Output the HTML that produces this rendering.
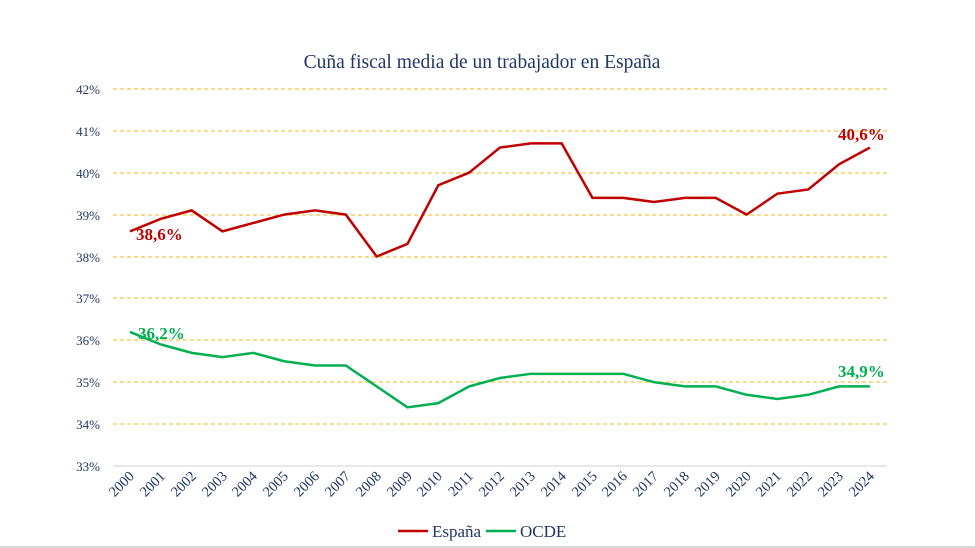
<!DOCTYPE html>
<html><head><meta charset="utf-8"><style>body{margin:0;background:#fff}svg{display:block}</style></head><body>
<svg width="975" height="548" viewBox="0 0 975 548" font-family="Liberation Serif, serif">
<rect width="975" height="548" fill="#fff"/>
<line x1="0" y1="547" x2="975" y2="547" stroke="#ccc" stroke-width="1.5"/>
<text x="482" y="68" text-anchor="middle" font-size="19.5" fill="#1f3864">Cuña fiscal media de un trabajador en España</text>
<g stroke="#f2c744" stroke-width="1.2" stroke-dasharray="4,3">
<line x1="113" x2="887" y1="89" y2="89"/><line x1="113" x2="887" y1="131" y2="131"/><line x1="113" x2="887" y1="173" y2="173"/><line x1="113" x2="887" y1="215" y2="215"/><line x1="113" x2="887" y1="257" y2="257"/><line x1="113" x2="887" y1="298" y2="298"/><line x1="113" x2="887" y1="340" y2="340"/><line x1="113" x2="887" y1="382" y2="382"/><line x1="113" x2="887" y1="424" y2="424"/>
</g>
<line x1="113" x2="887" y1="466" y2="466" stroke="#d9d9d9" stroke-width="1.2"/>
<g font-size="13" fill="#1f3864" text-anchor="end">
<text x="100" y="94">42%</text><text x="100" y="136">41%</text><text x="100" y="178">40%</text><text x="100" y="220">39%</text><text x="100" y="262">38%</text><text x="100" y="303">37%</text><text x="100" y="345">36%</text><text x="100" y="387">35%</text><text x="100" y="429">34%</text><text x="100" y="471">33%</text>
</g>
<g font-size="14.5" fill="#1f3864" text-anchor="end">
<text x="135" y="477" transform="rotate(-45 135 477)">2000</text>
<text x="166" y="477" transform="rotate(-45 166 477)">2001</text>
<text x="197" y="477" transform="rotate(-45 197 477)">2002</text>
<text x="228" y="477" transform="rotate(-45 228 477)">2003</text>
<text x="258" y="477" transform="rotate(-45 258 477)">2004</text>
<text x="289" y="477" transform="rotate(-45 289 477)">2005</text>
<text x="320" y="477" transform="rotate(-45 320 477)">2006</text>
<text x="351" y="477" transform="rotate(-45 351 477)">2007</text>
<text x="382" y="477" transform="rotate(-45 382 477)">2008</text>
<text x="413" y="477" transform="rotate(-45 413 477)">2009</text>
<text x="443" y="477" transform="rotate(-45 443 477)">2010</text>
<text x="474" y="477" transform="rotate(-45 474 477)">2011</text>
<text x="505" y="477" transform="rotate(-45 505 477)">2012</text>
<text x="536" y="477" transform="rotate(-45 536 477)">2013</text>
<text x="567" y="477" transform="rotate(-45 567 477)">2014</text>
<text x="598" y="477" transform="rotate(-45 598 477)">2015</text>
<text x="628" y="477" transform="rotate(-45 628 477)">2016</text>
<text x="659" y="477" transform="rotate(-45 659 477)">2017</text>
<text x="690" y="477" transform="rotate(-45 690 477)">2018</text>
<text x="721" y="477" transform="rotate(-45 721 477)">2019</text>
<text x="752" y="477" transform="rotate(-45 752 477)">2020</text>
<text x="782" y="477" transform="rotate(-45 782 477)">2021</text>
<text x="813" y="477" transform="rotate(-45 813 477)">2022</text>
<text x="844" y="477" transform="rotate(-45 844 477)">2023</text>
<text x="875" y="477" transform="rotate(-45 875 477)">2024</text>
</g>
<g transform="translate(130,466) scale(30.83,-41.9)">
<polyline fill="none" stroke="#c00000" stroke-width="2.5" vector-effect="non-scaling-stroke" points="0,5.6 1,5.9 2,6.1 3,5.6 4,5.8 5,6.0 6,6.1 7,6.0 8,5.0 9,5.3 10,6.7 11,7.0 12,7.6 13,7.7 14,7.7 15,6.4 16,6.4 17,6.3 18,6.4 19,6.4 20,6.0 21,6.5 22,6.6 23,7.2 24,7.6"/>
<polyline fill="none" stroke="#00b050" stroke-width="2.5" vector-effect="non-scaling-stroke" points="0,3.2 1,2.9 2,2.7 3,2.6 4,2.7 5,2.5 6,2.4 7,2.4 8,1.9 9,1.4 10,1.5 11,1.9 12,2.1 13,2.2 14,2.2 15,2.2 16,2.2 17,2.0 18,1.9 19,1.9 20,1.7 21,1.6 22,1.7 23,1.9 24,1.9"/>
</g>
<g font-size="17" font-weight="bold">
<text x="136" y="240" fill="#c00000">38,6%</text>
<text x="838" y="140" fill="#c00000">40,6%</text>
<text x="138" y="339" fill="#00b050">36,2%</text>
<text x="838" y="377" fill="#00b050">34,9%</text>
</g>
<line x1="398" x2="428" y1="531" y2="531" stroke="#c00000" stroke-width="2.5"/>
<text x="432" y="537" font-size="17" fill="#1f3864">España</text>
<line x1="486" x2="516" y1="531" y2="531" stroke="#00b050" stroke-width="2.5"/>
<text x="520" y="537" font-size="17" fill="#1f3864">OCDE</text>
</svg>
</body></html>
